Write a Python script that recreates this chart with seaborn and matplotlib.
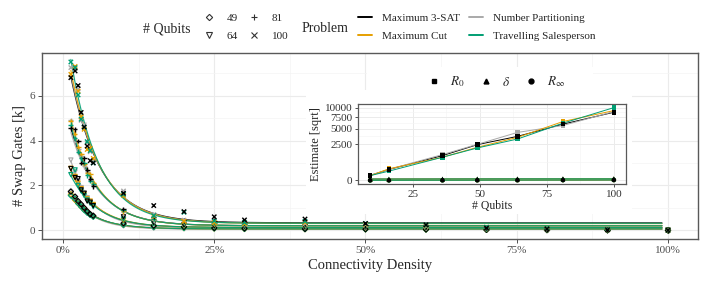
import numpy as np
import pandas as pd
import matplotlib
matplotlib.use("Agg")
import matplotlib.pyplot as plt
import seaborn as sns
from matplotlib.lines import Line2D
from matplotlib.patches import Rectangle

# ---------------- data ----------------
problems = ["Maximum 3-SAT", "Maximum Cut", "Number Partitioning", "Travelling Salesperson"]
problem_colors = ["#000000", "#E69F00", "#A9A9A9", "#009E73"]
point_order = ["Number Partitioning", "Maximum Cut", "Travelling Salesperson", "Maximum 3-SAT"]
line_order = ["Maximum 3-SAT", "Number Partitioning", "Maximum Cut", "Travelling Salesperson"]

qubit_counts = [49, 64, 81, 100]
qubit_markers = ["D", "v", "+", "x"]

density_pct = [1.3, 2, 2.5, 3, 3.5, 4, 4.5, 5, 10, 15, 20, 25, 30, 40, 50, 60, 70, 80, 90, 100]

swaps_49 = {
    "Maximum 3-SAT":          [1.72, 1.50, 1.30, 1.16, 1.00, 0.85, 0.72, 0.65, 0.31, 0.20, 0.15, 0.10, 0.08, 0.06, 0.05, 0.04, 0.02, 0.01, 0.0, 0.0],
    "Maximum Cut":            [1.60, 1.35, 1.20, 1.05, 0.92, 0.80, 0.70, 0.62, 0.25, 0.15, 0.10, 0.08, 0.06, 0.05, 0.04, 0.03, 0.02, 0.01, 0.0, 0.0],
    "Number Partitioning":    [1.75, 1.45, 1.25, 1.10, 0.95, 0.82, 0.72, 0.63, 0.22, 0.12, 0.09, 0.07, 0.06, 0.05, 0.04, 0.03, 0.02, 0.01, 0.0, 0.0],
    "Travelling Salesperson": [1.55, 1.40, 1.20, 1.05, 0.90, 0.78, 0.68, 0.60, 0.24, 0.14, 0.10, 0.08, 0.06, 0.05, 0.04, 0.03, 0.02, 0.01, 0.0, 0.0],
}
swaps_64 = {
    "Maximum 3-SAT":          [2.75, 2.35, 2.30, 1.80, 1.65, 1.30, 1.25, 1.10, 0.60, 0.35, 0.25, 0.20, 0.18, 0.15, 0.12, 0.10, 0.05, 0.03, 0.01, 0.0],
    "Maximum Cut":            [2.76, 2.40, 2.10, 1.85, 1.60, 1.40, 1.30, 1.15, 0.45, 0.30, 0.20, 0.18, 0.15, 0.13, 0.10, 0.08, 0.05, 0.03, 0.01, 0.0],
    "Number Partitioning":    [3.13, 2.60, 2.20, 1.90, 1.65, 1.45, 1.25, 1.10, 0.50, 0.30, 0.20, 0.17, 0.15, 0.12, 0.10, 0.08, 0.05, 0.03, 0.01, 0.0],
    "Travelling Salesperson": [2.48, 2.69, 2.00, 1.75, 1.55, 1.35, 1.20, 1.05, 0.50, 0.30, 0.22, 0.18, 0.15, 0.14, 0.11, 0.09, 0.05, 0.03, 0.01, 0.0],
}
swaps_81 = {
    "Maximum 3-SAT":          [4.55, 4.50, 3.98, 3.00, 3.20, 2.70, 2.30, 1.95, 0.95, 0.60, 0.45, 0.42, 0.35, 0.30, 0.22, 0.18, 0.10, 0.05, 0.02, 0.0],
    "Maximum Cut":            [4.85, 4.30, 3.70, 3.40, 2.95, 2.55, 2.50, 2.10, 0.85, 0.50, 0.38, 0.30, 0.28, 0.25, 0.20, 0.15, 0.08, 0.05, 0.02, 0.0],
    "Number Partitioning":    [4.90, 4.00, 3.60, 3.30, 2.85, 2.60, 2.25, 2.00, 0.80, 0.45, 0.35, 0.30, 0.25, 0.22, 0.18, 0.14, 0.08, 0.04, 0.02, 0.0],
    "Travelling Salesperson": [4.70, 4.10, 3.50, 3.20, 3.00, 2.45, 2.20, 2.05, 0.90, 0.50, 0.40, 0.32, 0.30, 0.26, 0.20, 0.15, 0.09, 0.05, 0.02, 0.0],
}
swaps_100 = {
    "Maximum 3-SAT":          [6.80, 7.10, 6.45, 5.25, 4.60, 3.75, 3.10, 3.00, 1.65, 1.10, 0.83, 0.60, 0.46, 0.50, 0.30, 0.24, 0.10, 0.06, 0.02, 0.0],
    "Maximum Cut":            [6.95, 7.30, 6.20, 5.05, 4.50, 3.60, 3.65, 3.20, 1.55, 0.62, 0.40, 0.35, 0.30, 0.35, 0.27, 0.20, 0.12, 0.08, 0.03, 0.0],
    "Number Partitioning":    [7.25, 7.20, 6.30, 4.90, 4.70, 3.90, 3.50, 3.10, 1.75, 0.70, 0.45, 0.40, 0.35, 0.30, 0.25, 0.18, 0.10, 0.07, 0.03, 0.0],
    "Travelling Salesperson": [7.50, 7.25, 6.03, 4.95, 4.60, 3.95, 3.55, 3.00, 1.60, 0.65, 0.80, 0.42, 0.35, 0.40, 0.30, 0.22, 0.14, 0.09, 0.04, 0.0],
}
swaps_by_qubits = [swaps_49, swaps_64, swaps_81, swaps_100]

# fitted model estimates (inset): R0 in swaps, delta in % density, R_inf in k swaps
inset_qubits = [9, 16, 36, 49, 64, 81, 100]
r0_raw = {
    "Maximum 3-SAT":          [46, 225, 1160, 2410, 3655, 5970, 8770],
    "Maximum Cut":            [40, 253, 1012, 2066, 3490, 6545, 9200],
    "Number Partitioning":    [50, 230, 1257, 2450, 4343, 5695, 8935],
    "Travelling Salesperson": [42, 162, 1012, 1984, 3228, 6180, 10000],
}
delta_pct = {
    "Maximum 3-SAT":          [2.8, 3.0, 3.4, 3.7, 4.1, 4.6, 5.0],
    "Maximum Cut":            [3.0, 3.2, 3.6, 4.0, 4.3, 4.4, 4.9],
    "Number Partitioning":    [2.7, 2.9, 3.3, 3.5, 3.7, 4.7, 5.0],
    "Travelling Salesperson": [3.1, 3.3, 3.8, 4.1, 4.4, 4.5, 4.6],
}
rinf_k = {
    "Maximum 3-SAT":          [0.005, 0.01, 0.03, 0.06, 0.12, 0.20, 0.33],
    "Maximum Cut":            [0.005, 0.01, 0.03, 0.06, 0.12, 0.20, 0.30],
    "Number Partitioning":    [0.005, 0.01, 0.03, 0.05, 0.11, 0.19, 0.30],
    "Travelling Salesperson": [0.005, 0.01, 0.03, 0.06, 0.12, 0.20, 0.31],
}

# ---------------- style ----------------
sns.set_theme(style="white")
plt.rcParams["font.family"] = ["Liberation Serif", "DejaVu Serif"]
plt.rcParams["mathtext.fontset"] = "stix"

pal = dict(zip(problems, problem_colors))
TICK_C = "#4D4D4D"
SPINE_C = "#595959"
GRID_MAJ = "#EBEBEB"
GRID_MIN = "#F4F4F4"

W, H = 718, 285
fig = plt.figure(figsize=(W / 100, H / 100), dpi=100)


def px_rect(l, t, r, b):
    return [l / W, 1 - b / H, (r - l) / W, (b - t) / H]


# ---------------- main axes ----------------
ax = fig.add_axes(px_rect(42, 53, 698, 239))

rows = []
for q, arrs in zip(qubit_counts, swaps_by_qubits):
    for p in point_order:
        for d, v in zip(density_pct, arrs[p]):
            rows.append(dict(qubits=q, problem=p, density=d / 100, swaps=v))
pts = pd.DataFrame(rows)

crows = []
for q in qubit_counts:
    k = inset_qubits.index(q)
    grid = np.linspace(density_pct[0] / 100, 0.99, 300)
    for p in line_order:
        r0 = r0_raw[p][k] / 1000
        dl = delta_pct[p][k] / 100
        ri = rinf_k[p][k]
        vals = ri + (r0 - ri) * np.exp(-grid / dl)
        for g, v in zip(grid, vals):
            crows.append(dict(qubits=q, problem=p, density=g, swaps=v))
curves = pd.DataFrame(crows)

for p in line_order:
    sns.lineplot(data=curves[curves.problem == p], x="density", y="swaps",
                 units="qubits", estimator=None, color=pal[p], lw=0.85, alpha=0.9,
                 legend=False, sort=False, ax=ax, zorder=3)

marker_sizes = {"D": 7, "v": 9, "+": 12, "x": 10}
for q, m in zip(qubit_counts, qubit_markers):
    sub = pts[pts.qubits == q]
    n_before = len(ax.collections)
    sns.scatterplot(data=sub, x="density", y="swaps", hue="problem", palette=pal,
                    marker=m, s=marker_sizes[m], linewidth=1.0, legend=False, ax=ax, zorder=4)
    coll = ax.collections[n_before]
    if m in ("D", "v"):
        fc = coll.get_facecolors()
        coll.set_edgecolors(fc)
        coll.set_facecolors("none")
        coll.set_linewidth(0.85)

ax.set_xlim(-0.0347, 1.0496)
ax.set_ylim(-0.39, 7.9)
ax.set_xticks([0, 0.25, 0.5, 0.75, 1.0])
ax.set_xticklabels(["0%", "25%", "50%", "75%", "100%"])
ax.set_xticks([0.125, 0.375, 0.625, 0.875], minor=True)
ax.set_yticks([0, 2, 4, 6])
ax.set_yticks([1, 3, 5, 7], minor=True)
ax.grid(True, which="major", color=GRID_MAJ, lw=0.8)
ax.grid(True, which="minor", color=GRID_MIN, lw=0.5)
ax.set_axisbelow(True)
ax.tick_params(axis="both", which="major", labelsize=8, labelcolor=TICK_C,
               color="#333333", length=3, width=0.6, direction="out", pad=2,
               bottom=True, left=True)
ax.tick_params(axis="both", which="minor", length=0)
for s in ax.spines.values():
    s.set_color(SPINE_C)
    s.set_linewidth(1.0)
ax.set_xlabel("Connectivity Density", fontsize=10.5, labelpad=3)
ax.set_ylabel("# Swap Gates [k]", fontsize=10.5)
ax.yaxis.set_label_coords(-0.024, 0.45)

# ---------------- inset backdrop ----------------
fig.add_artist(Rectangle((306 / W, 1 - 214 / H), (632 - 306) / W, (214 - 90) / H,
                         transform=fig.transFigure, facecolor="white", edgecolor="none", zorder=2))
fig.add_artist(Rectangle((367 / W, 1 - 100 / H), (593 - 367) / W, (100 - 67) / H,
                         transform=fig.transFigure, facecolor="white", edgecolor="none", zorder=2))

# ---------------- inset ----------------
axi = fig.add_axes(px_rect(358, 104, 626, 184), zorder=3)
irows = []
for p in point_order:
    for i, q in enumerate(inset_qubits):
        irows.append(dict(qubits=q, problem=p, param="R0", value=r0_raw[p][i]))
        irows.append(dict(qubits=q, problem=p, param="delta", value=delta_pct[p][i]))
        irows.append(dict(qubits=q, problem=p, param="Rinf", value=rinf_k[p][i]))
inset_df = pd.DataFrame(irows)

fwd = lambda y: np.sign(y) * np.sqrt(np.abs(y))
inv = lambda y: np.sign(y) * y ** 2
axi.set_yscale("function", functions=(fwd, inv))

for p in line_order:
    sns.lineplot(data=inset_df[inset_df.problem == p], x="qubits", y="value",
                 units="param", estimator=None, color=pal[p], lw=0.7,
                 legend=False, ax=axi, zorder=3)
sns.scatterplot(data=inset_df, x="qubits", y="value", hue="problem", style="param",
                markers={"R0": "s", "delta": "^", "Rinf": "o"}, palette=pal, s=11,
                linewidth=0, legend=False, ax=axi, zorder=4)

axi.set_xlim(4.45, 104.55)
axi.set_ylim(-25, 11025)
axi.set_xticks([25, 50, 75, 100])
axi.set_xticks([12.5, 37.5, 62.5, 87.5], minor=True)
axi.set_yticks([0, 2500, 5000, 7500, 10000])
axi.set_yticks([625, 3645, 6180, 8710], minor=True)
axi.grid(True, which="major", color=GRID_MAJ, lw=0.7)
axi.grid(True, which="minor", color=GRID_MIN, lw=0.45)
axi.set_axisbelow(True)
axi.tick_params(axis="both", which="major", labelsize=8, labelcolor="#333333",
                color="#333333", length=2.5, width=0.6, direction="out", pad=1.5,
                bottom=True, left=True)
axi.tick_params(axis="both", which="minor", length=0)
for s in axi.spines.values():
    s.set_color(SPINE_C)
    s.set_linewidth(0.9)
axi.set_xlabel("# Qubits", fontsize=8.5, labelpad=1)
axi.set_ylabel("Estimate [sqrt]", fontsize=9, labelpad=2)

ih = [Line2D([], [], marker="s", ls="", color="black", ms=3.5),
      Line2D([], [], marker="^", ls="", color="black", ms=3.5),
      Line2D([], [], marker="o", ls="", color="black", ms=3.5)]
fig.legend(ih, [r"$R_0$", r"$\delta$", r"$R_\infty$"], ncol=3, loc="center",
           bbox_to_anchor=(497 / W, 1 - 82 / H), frameon=False, fontsize=9.5,
           handlelength=0.8, handletextpad=0.8, columnspacing=1.2, borderpad=0)

# ---------------- top legends ----------------
qh = []
for m in qubit_markers:
    if m in ("D", "v"):
        qh.append(Line2D([], [], marker=m, ls="", mfc="none", mec="#333333",
                         ms=3.2 if m == "D" else 4, mew=0.8))
    else:
        qh.append(Line2D([], [], marker=m, ls="", color="#333333", ms=4, mew=0.8))
fig.legend(qh, [str(q) for q in qubit_counts], ncol=2, loc="upper left",
           bbox_to_anchor=(203.5 / W, 1 - 13 / H), frameon=False, fontsize=8,
           handlelength=1.0, handletextpad=1.1, columnspacing=0.95,
           labelspacing=0.72, borderpad=0, borderaxespad=0)
fig.text(167 / W, 1 - 29 / H, "# Qubits", ha="center", va="center", fontsize=10)

ph = [Line2D([], [], color=c, lw=1.4) for c in problem_colors]
fig.legend(ph, problems, ncol=2, loc="upper left",
           bbox_to_anchor=(358 / W, 1 - 13 / H), frameon=False, fontsize=8,
           handlelength=1.3, handletextpad=0.9, columnspacing=0.75,
           labelspacing=0.72, borderpad=0, borderaxespad=0)
fig.text(325 / W, 1 - 29 / H, "Problem", ha="center", va="center", fontsize=10)

fig.savefig("out.png", dpi=100)
